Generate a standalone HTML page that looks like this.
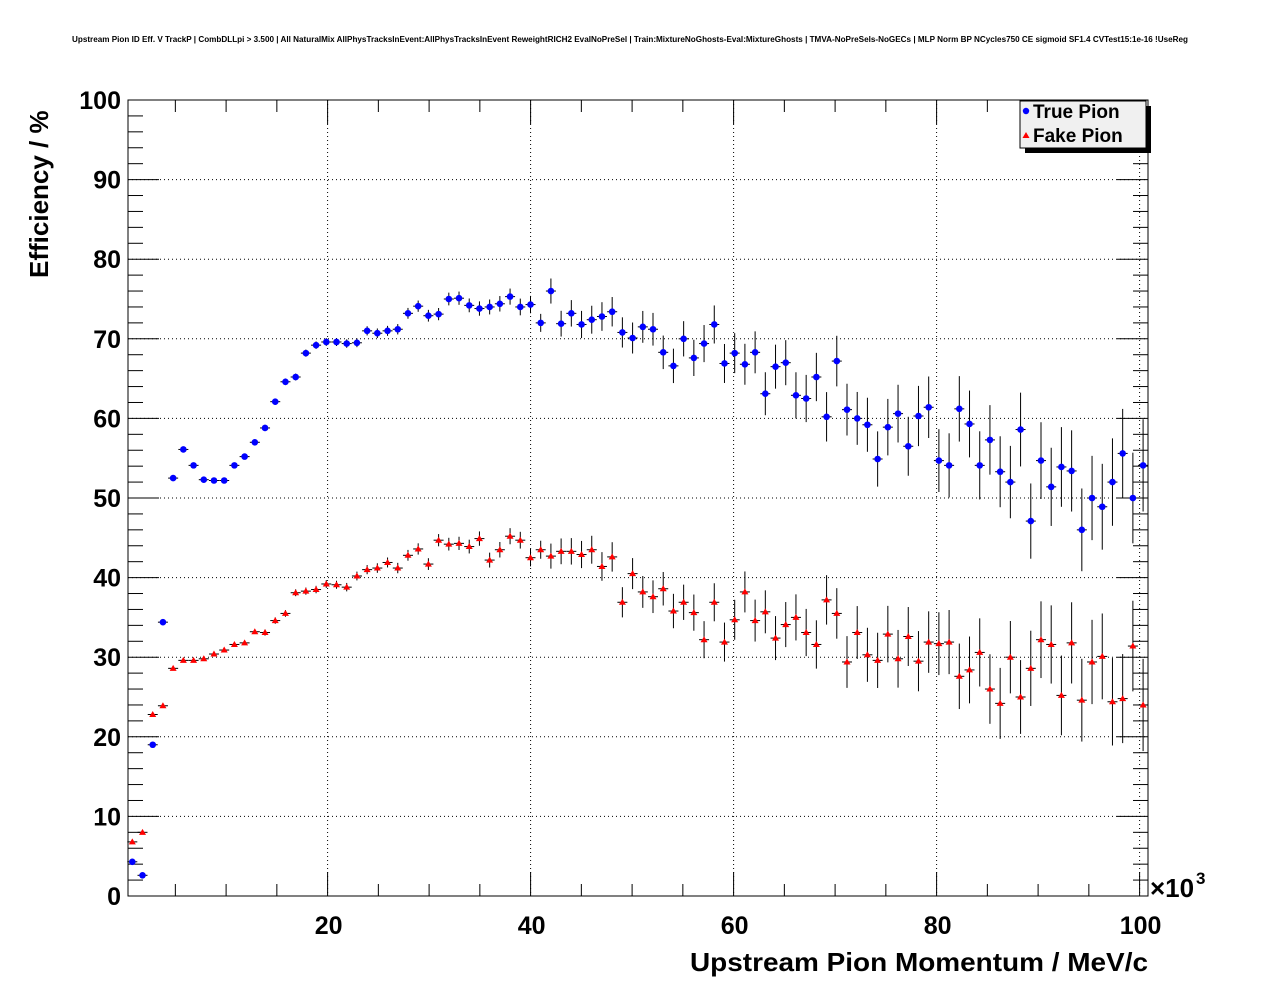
<!DOCTYPE html>
<html><head><meta charset="utf-8"><style>
html,body{margin:0;padding:0;background:#fff;}
svg{display:block;font-family:"Liberation Sans",sans-serif;}
</style></head><body>
<svg id="s" width="1276" height="996" xmlns="http://www.w3.org/2000/svg">
<rect width="1276" height="996" fill="#fff"/>
<text x="72" y="42" font-size="8" font-weight="bold" textLength="1116" lengthAdjust="spacingAndGlyphs">Upstream Pion ID Eff. V TrackP | CombDLLpi &gt; 3.500 | All NaturalMix AllPhysTracksInEvent:AllPhysTracksInEvent ReweightRICH2 EvalNoPreSel | Train:MixtureNoGhosts-Eval:MixtureGhosts | TMVA-NoPreSels-NoGECs | MLP Norm BP NCycles750 CE sigmoid SF1.4 CVTest15:1e-16 !UseReg</text>
<g id="g"></g>
<rect x="128" y="100" width="1020" height="796" fill="none" stroke="#000" stroke-width="1"/>
<g font-size="25" font-weight="bold" text-anchor="end" id="yl"></g>
<g font-size="25" font-weight="bold" text-anchor="middle" id="xl"></g>
<text x="1150" y="897" font-size="26" font-weight="bold">×10</text>
<text x="1196" y="884" font-size="17" font-weight="bold">3</text>
<text x="690" y="971" font-size="26" font-weight="bold" textLength="458" lengthAdjust="spacingAndGlyphs">Upstream Pion Momentum / MeV/c</text>
<text transform="translate(48,278) rotate(-90)" font-size="26" font-weight="bold">Efficiency / %</text>
<g id="d"></g>
<rect x="1025" y="106" width="126" height="47" fill="#000"/>
<rect x="1020" y="101" width="126" height="47" fill="#f0f0f0" stroke="#000"/>
<circle cx="1026" cy="111" r="3.2" fill="#0000ff"/>
<polygon points="1026,132 1029.5,138 1022.5,138" fill="#ff0000"/>
<text x="1033" y="118" font-size="19" font-weight="bold">True Pion</text>
<text x="1033" y="142" font-size="19" font-weight="bold">Fake Pion</text>
</svg>
<script>
var NS="http://www.w3.org/2000/svg";
function el(p,t,a,txt){var e=document.createElementNS(NS,t);for(var k in a)e.setAttribute(k,a[k]);if(txt!==undefined)e.textContent=txt;document.getElementById(p).appendChild(e);return e;}
var X0=124.6,SX=10.15,Y0=896,SY=7.96;
function X(v){return X0+SX*v;} function Y(v){return Y0-SY*v;}
for(var v=20;v<=100;v+=20){el("g","line",{x1:X(v),x2:X(v),y1:100,y2:896,stroke:"#000","stroke-dasharray":"1,3","stroke-width":1});}
for(var v=10;v<=100;v+=10){el("g","line",{x1:128,x2:1148,y1:Y(v),y2:Y(v),stroke:"#000","stroke-dasharray":"1,3","stroke-width":1});}
for(var v=0;v<=100;v+=2){var L=(v%10==0)?31:15;el("g","line",{x1:128,x2:128+L,y1:Y(v),y2:Y(v),stroke:"#000"});el("g","line",{x1:1148,x2:1148-L,y1:Y(v),y2:Y(v),stroke:"#000"});}
for(var v=5;v<=100;v+=5){var L=(v%20==0)?24:12;el("g","line",{x1:X(v),x2:X(v),y1:896,y2:896-L,stroke:"#000"});el("g","line",{x1:X(v),x2:X(v),y1:100,y2:100+L,stroke:"#000"});}
for(var v=0;v<=100;v+=10)el("yl","text",{x:121,y:Y(v)+9},String(v));
for(var v=20;v<=100;v+=20)el("xl","text",{x:X(v)+1,y:934},String(v));
var B=[4.3,2.6,19,34.4,52.5,56.1,54.1,52.3,52.2,52.2,54.1,55.2,57,58.8,62.1,64.6,65.2,68.2,69.2,69.6,69.6,69.4,69.5,71,70.7,71,71.2,73.2,74.1,72.9,73.1,75,75.1,74.2,73.8,74,74.4,75.3,74,74.3,72,76,71.9,73.2,71.8,72.4,72.8,73.4,70.8,70.1,71.5,71.2,68.3,66.6,70,67.6,69.4,71.8,66.9,68.2,66.8,68.3,63.1,66.5,67,62.9,62.5,65.2,60.2,67.2,61.1,60,59.2,54.9,58.9,60.6,56.5,60.3,61.4,54.7,54.1,61.2,59.3,54.1,57.3,53.3,52,58.6,47.1,54.7,51.4,53.9,53.4,46,50,48.9,52,55.6,50,54.1];
var R=[6.8,8,22.8,23.9,28.6,29.6,29.6,29.8,30.4,30.9,31.6,31.8,33.2,33.1,34.6,35.5,38.1,38.3,38.5,39.2,39.1,38.8,40.2,41,41.2,41.9,41.2,42.8,43.6,41.7,44.7,44.2,44.3,43.9,44.9,42.2,43.5,45.2,44.7,42.5,43.5,42.7,43.3,43.3,42.9,43.5,41.4,42.6,36.9,40.5,38.2,37.6,38.6,35.8,36.9,35.6,32.2,36.9,31.9,34.7,38.2,34.6,35.7,32.4,34.1,35,33.1,31.6,37.2,35.5,29.4,33.1,30.3,29.6,32.9,29.8,32.6,29.5,31.9,31.7,31.9,27.6,28.4,30.6,26,24.2,30,25,28.6,32.2,31.6,25.2,31.8,24.6,29.4,30.1,24.4,24.8,31.4,24];
function err(i){return 0.3+Math.pow(i/100,2)*5.2+ (i>40?0.4:0);}
function draw(arr,col,tri){for(var i=0;i<arr.length;i++){var x=132.3+10.21*i,y=Y(arr[i]),e=err(i)*SY;
el("d","line",{x1:x-5,x2:x+5,y1:y,y2:y,stroke:"#000"});
if(e>3)el("d","line",{x1:x,x2:x,y1:y-e,y2:y+e,stroke:"#000"});
if(tri)el("d","polygon",{points:(x)+","+(y-3.5)+" "+(x+3.5)+","+(y+2.5)+" "+(x-3.5)+","+(y+2.5),fill:col});
else el("d","circle",{cx:x,cy:y,r:3.3,fill:col});}}
draw(B,"#0000ff",false);draw(R,"#ff0000",true);
</script>
</body></html>
